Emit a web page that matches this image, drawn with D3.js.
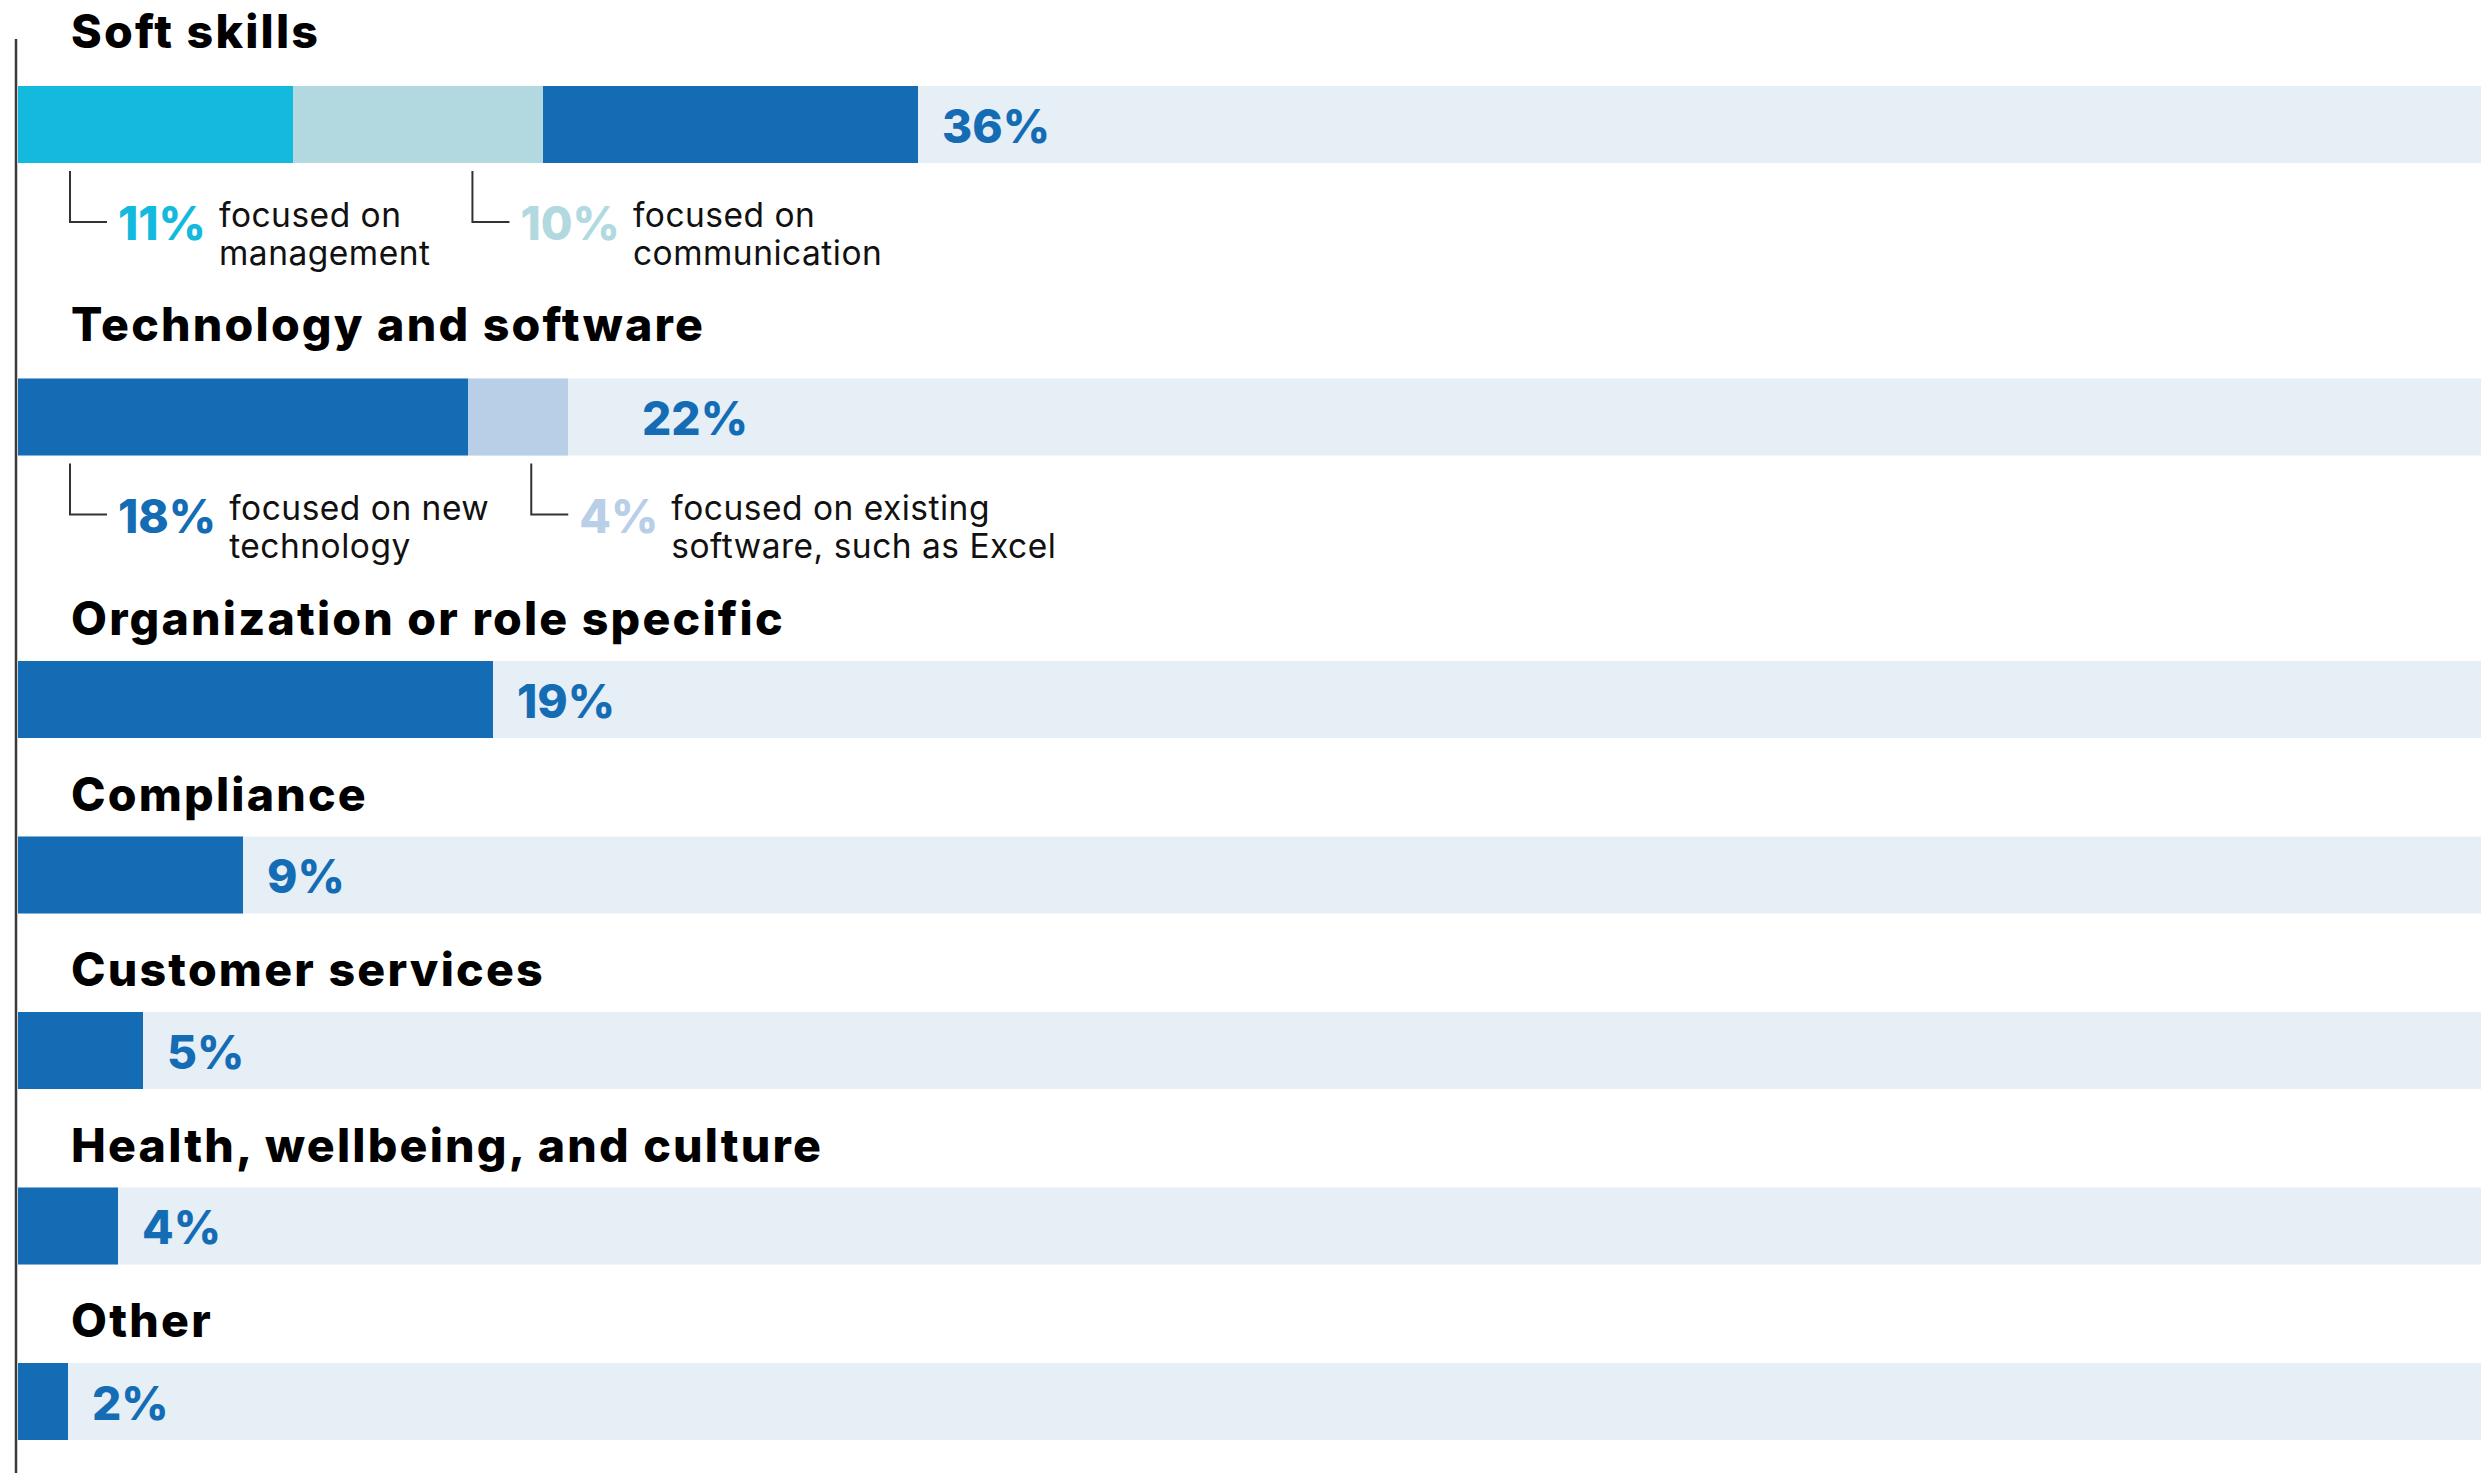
<!DOCTYPE html>
<html>
<head>
<meta charset="utf-8">
<script src="https://cdn.jsdelivr.net/npm/d3@7"></script>
<style>
  html, body { margin: 0; padding: 0; background: #ffffff; }
  svg { display: block; }
</style>
</head>
<body>
<svg id="chart" width="2487" height="1473"></svg>
<script>
// Share of training by topic (percent)
const categories = [
  "Soft skills",
  "Technology and software",
  "Organization or role specific",
  "Compliance",
  "Customer services",
  "Health, wellbeing, and culture",
  "Other"
];
const totals = [36, 22, 19, 9, 5, 4, 2];

// Breakdown of the first two topics
const subParents = ["Soft skills", "Soft skills", "Technology and software", "Technology and software"];
const subValues = [11, 10, 18, 4];
const subLines = [
  ["focused on", "management"],
  ["focused on", "communication"],
  ["focused on new", "technology"],
  ["focused on existing", "software, such as Excel"]
];

// Styling
const subColors = ["#14b9de", "#b3d9e0", "#146cb4", "#b9cfe8"];
const BLUE = "#146cb4";
const TRACK = "#e6eef6";
const FONT = "Inter, 'Noto Sans', sans-serif";

const W = 2487, H = 1473;
const barH = 77;
const svg = d3.select("#chart");

const x = d3.scaleLinear().domain([0, 100]).range([18, 2518]);
const trackRight = W - 6;

// Assemble rows with their stacked segments
const rows = categories.map((c, i) => {
  const parts = subValues
    .map((v, j) => ({ v, j }))
    .filter(p => subParents[p.j] === c);
  let acc = 0;
  const segs = parts.map(p => {
    const s = { a: acc, b: acc + p.v, color: subColors[p.j], sub: true };
    acc += p.v;
    return s;
  });
  if (totals[i] - acc > 0) segs.push({ a: acc, b: totals[i], color: BLUE, sub: false });
  return { category: c, total: totals[i], parts, segs };
});

// Vertical layout: annotated rows get extra room underneath
let cursor = 86;
rows.forEach((r, i) => {
  r.top = cursor;
  cursor += 175.5 + (r.parts.length ? 112 : 0);
});
// Second row sits a touch lower below the first annotation block
rows[1].top += 5;

// Left rule
svg.append("line")
  .attr("x1", 16).attr("x2", 16)
  .attr("y1", 39).attr("y2", H)
  .attr("stroke", "#3a3a3a")
  .attr("stroke-width", 2.5);

const row = svg.selectAll("g.row")
  .data(rows)
  .join("g")
  .attr("class", "row");

// Background track
row.append("rect")
  .attr("x", x(0))
  .attr("y", d => d.top)
  .attr("width", trackRight - x(0))
  .attr("height", barH)
  .attr("fill", TRACK);

// Stacked segments
row.selectAll("rect.seg")
  .data(d => d.segs.map(s => ({ ...s, top: d.top })))
  .join("rect")
  .attr("class", "seg")
  .attr("x", s => x(s.a))
  .attr("y", s => s.top)
  .attr("width", s => x(s.b) - x(s.a))
  .attr("height", barH)
  .attr("fill", s => s.color);

// Category titles
row.append("text")
  .attr("x", 71)
  .attr("y", d => d.top - (d.parts.length ? 38 : 26))
  .attr("font-family", FONT)
  .attr("font-weight", 800)
  .attr("font-size", 46.5)
  .attr("letter-spacing", 2.2)
  .attr("fill", "#000")
  .text(d => d.category);

// Total value labels
row.append("text")
  .attr("x", d => {
    const last = d.segs[d.segs.length - 1];
    return x(d.total) + (last.sub ? 74 : 24);
  })
  .attr("y", d => d.top + barH / 2 + 18)
  .attr("font-family", FONT)
  .attr("font-weight", 800)
  .attr("font-size", 46)
  .attr("fill", BLUE)
  .text(d => d.total + "%");

// Breakdown annotations under the bars
rows.filter(r => r.parts.length).forEach(r => {
  const b = r.top + barH;
  const g = svg.append("g").attr("class", "annot");
  let cx = 70;
  r.parts.forEach(p => {
    g.append("path")
      .attr("d", `M${cx},${b + 8}V${b + 59}H${cx + 37}`)
      .attr("fill", "none")
      .attr("stroke", "#333")
      .attr("stroke-width", 2);
    const pct = g.append("text")
      .attr("x", cx + 48)
      .attr("y", b + 77)
      .attr("font-family", FONT)
      .attr("font-weight", 800)
      .attr("font-size", 46)
      .attr("fill", subColors[p.j])
      .text(p.v + "%");
    const tx = cx + 48 + pct.node().getComputedTextLength() + 13;
    let maxEnd = tx;
    subLines[p.j].forEach((line, k) => {
      const t = g.append("text")
        .attr("x", tx)
        .attr("y", b + 64 + k * 38)
        .attr("font-family", FONT)
        .attr("font-weight", 400)
        .attr("font-size", 33.5)
        .attr("letter-spacing", 0.5)
        .attr("fill", "#111")
        .text(line);
      maxEnd = Math.max(maxEnd, tx + t.node().getComputedTextLength());
    });
    cx = maxEnd + 42;
  });
});
</script>
</body>
</html>
